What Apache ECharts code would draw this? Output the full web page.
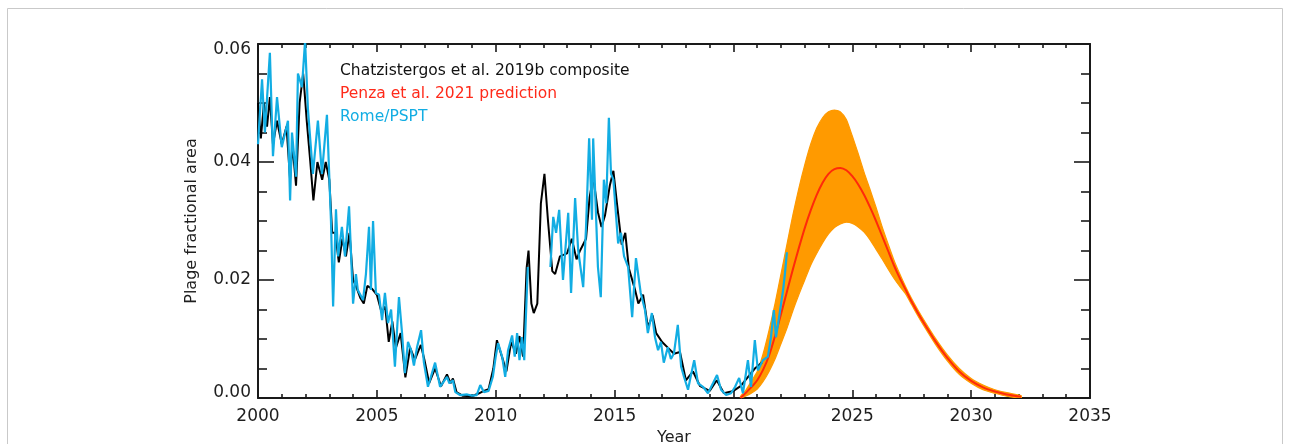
<!DOCTYPE html>
<html>
<head>
<meta charset="utf-8">
<script src="https://cdn.jsdelivr.net/npm/echarts@6/dist/echarts.min.js"></script>
<style>
html,body{margin:0;padding:0;background:#fff;}
#chart{width:1290px;height:444px;}
</style>
</head>
<body>
<div id="chart"></div>
<script>
// ---- Data ----
const xTicks = [2000, 2005, 2010, 2015, 2020, 2025, 2030, 2035];
const yTicks = [0.00, 0.02, 0.04, 0.06];

const legendLabels = ["Chatzistergos et al. 2019b composite", "Penza et al. 2021 prediction", "Rome/PSPT"];
const xTitle = "Year";
const yTitle = "Plage fractional area";

// Chatzistergos et al. 2019b composite (black)
const compYears = [2000.0,2000.12,2000.25,2000.38,2000.5,2000.63,2000.8,2001.0,2001.2,2001.35,2001.45,2001.6,2001.75,2001.9,2002.05,2002.2,2002.33,2002.5,2002.7,2002.85,2003.0,2003.12,2003.25,2003.4,2003.55,2003.7,2003.85,2004.0,2004.12,2004.3,2004.45,2004.6,2004.8,2005.0,2005.2,2005.35,2005.5,2005.65,2005.8,2006.0,2006.2,2006.4,2006.6,2006.85,2007.0,2007.2,2007.45,2007.7,2007.95,2008.1,2008.2,2008.35,2008.6,2009.0,2009.3,2009.5,2009.7,2009.9,2010.05,2010.3,2010.45,2010.65,2010.85,2011.0,2011.15,2011.3,2011.38,2011.5,2011.6,2011.75,2011.9,2012.05,2012.2,2012.38,2012.5,2012.7,2013.0,2013.2,2013.4,2013.55,2013.8,2013.95,2014.1,2014.3,2014.45,2014.6,2014.8,2014.95,2015.1,2015.3,2015.45,2015.6,2015.85,2016.0,2016.2,2016.4,2016.6,2016.75,2017.0,2017.25,2017.5,2017.75,2018.0,2018.3,2018.6,2019.0,2019.3,2019.6,2020.0,2020.3,2020.6,2020.9,2021.2];
const compVals  = [0.050,0.044,0.050,0.046,0.051,0.043,0.047,0.043,0.046,0.037,0.043,0.036,0.050,0.055,0.047,0.040,0.0335,0.040,0.037,0.040,0.037,0.028,0.028,0.023,0.027,0.024,0.028,0.020,0.019,0.017,0.016,0.019,0.0185,0.0175,0.0145,0.0155,0.0095,0.013,0.0085,0.011,0.0035,0.0085,0.0065,0.009,0.0065,0.0025,0.005,0.002,0.004,0.0025,0.0033,0.001,0.0004,0.0003,0.0008,0.0012,0.0015,0.005,0.0098,0.0065,0.0045,0.0095,0.0075,0.0105,0.007,0.022,0.025,0.016,0.0144,0.016,0.033,0.038,0.030,0.0215,0.021,0.024,0.0245,0.027,0.0235,0.025,0.027,0.034,0.0375,0.0315,0.029,0.031,0.036,0.0385,0.033,0.026,0.028,0.022,0.0185,0.016,0.0175,0.012,0.014,0.011,0.0095,0.0085,0.0075,0.0078,0.003,0.0045,0.002,0.0012,0.003,0.0008,0.0012,0.002,0.0035,0.005,0.006];

// Rome/PSPT (cyan); null = data gap
const psptYears = [2000.0,2000.17,2000.29,2000.5,2000.63,2000.8,2001.0,2001.26,2001.35,2001.43,2001.6,2001.68,2001.85,2001.98,2002.1,2002.31,2002.52,2002.69,2002.9,2003.07,2003.16,2003.28,2003.37,2003.53,2003.66,2003.83,2004.0,2004.12,2004.2,2004.42,2004.54,2004.67,2004.75,2004.84,2004.96,2005.09,2005.22,2005.34,2005.47,2005.6,2005.76,2005.93,2006.06,2006.18,2006.31,2006.44,2006.56,2006.69,2006.86,2006.98,2007.15,2007.45,2007.66,2007.95,2008.05,2008.2,2008.3,2008.5,2008.8,2009.0,2009.2,2009.35,2009.5,2009.7,2009.88,2010.0,2010.1,2010.27,2010.4,2010.52,2010.69,2010.8,2010.9,2011.0,2011.1,2011.2,2011.35,2011.8,2012.3,2012.42,2012.54,2012.67,2012.83,2013.05,2013.17,2013.34,2013.47,2013.68,2013.8,2013.93,2014.05,2014.1,2014.3,2014.42,2014.55,2014.65,2014.76,2014.85,2014.95,2015.15,2015.27,2015.4,2015.57,2015.74,2015.9,2016.1,2016.28,2016.4,2016.57,2016.7,2016.83,2016.95,2017.07,2017.24,2017.37,2017.5,2017.66,2017.8,2017.92,2018.09,2018.2,2018.35,2018.51,2018.72,2018.93,2019.14,2019.31,2019.48,2019.69,2019.9,2020.07,2020.24,2020.4,2020.61,2020.74,2020.9,2021.03,2021.24,2021.45,2021.58,2021.7,2021.79,2021.92,2022.09,2022.17,2022.25];
const psptVals  = [0.043,0.054,0.045,0.0585,0.041,0.051,0.0425,0.047,0.0335,0.045,0.0375,0.055,0.0527,0.0605,0.049,0.038,0.047,0.038,0.048,0.030,0.0155,0.032,0.024,0.029,0.024,0.0325,0.016,0.021,0.0183,0.0166,0.021,0.029,0.0183,0.030,0.0178,0.0175,0.0132,0.0178,0.0127,0.015,0.0053,0.0171,0.011,0.0042,0.0095,0.0081,0.0055,0.0086,0.0115,0.006,0.0019,0.006,0.0019,0.0036,0.0025,0.003,0.001,0.0005,0.0006,0.0004,0.0005,0.0022,0.001,0.0012,0.0036,0.007,0.0093,0.007,0.0036,0.0081,0.0106,0.007,0.011,0.0064,0.0103,0.0064,0.0222,null,0.0222,0.0307,0.028,0.0319,0.020,0.0314,0.0178,0.0339,0.025,0.0188,0.029,0.044,0.0302,0.044,0.0222,0.0171,0.037,0.033,0.0475,0.038,0.037,0.0262,0.028,0.024,0.0222,0.0137,0.0237,0.0178,0.0149,0.011,0.0144,0.0103,0.0081,0.0095,0.006,0.0086,0.0066,0.0076,0.0124,0.0053,0.0036,0.0014,0.0036,0.0064,0.0025,0.0019,0.0008,0.0025,0.0039,0.0014,0.0005,0.0008,0.0019,0.0034,0.0008,0.0064,0.0019,0.0098,0.0047,0.0064,0.007,0.0103,0.0149,0.0103,0.0137,0.0183,0.0212,0.0247];

// Penza et al. 2021 prediction (red) with its uncertainty band (orange)
const predYears = [2020.3,2020.5,2020.75,2021.0,2021.25,2021.5,2021.75,2022.0,2022.25,2022.5,2022.75,2023.0,2023.25,2023.5,2023.75,2024.0,2024.25,2024.5,2024.75,2025.0,2025.25,2025.5,2025.75,2026.0,2026.25,2026.5,2026.75,2027.0,2027.25,2027.5,2027.75,2028.0,2028.5,2029.0,2029.5,2030.0,2030.5,2031.0,2031.5,2032.1];
const predMid  = [0.0,0.0008,0.0018,0.003,0.0048,0.0072,0.0105,0.0142,0.018,0.0218,0.0254,0.0288,0.0318,0.0344,0.0365,0.038,0.0388,0.039,0.0386,0.0376,0.0362,0.0344,0.0323,0.030,0.0275,0.025,0.0225,0.0203,0.0183,0.0163,0.0145,0.0128,0.0096,0.0068,0.0045,0.0029,0.0018,0.0011,0.0006,0.0002];
const predHigh = [0.0003,0.0012,0.0028,0.0045,0.0075,0.0115,0.016,0.021,0.026,0.031,0.0355,0.0395,0.043,0.0457,0.0475,0.0485,0.0488,0.0485,0.0472,0.0444,0.0414,0.0382,0.0353,0.0323,0.0291,0.0262,0.0234,0.021,0.0188,0.0168,0.015,0.0133,0.0101,0.0073,0.005,0.0033,0.0022,0.0014,0.0009,0.0004];
const predLow  = [0.0,0.0003,0.0008,0.0015,0.0028,0.0045,0.0066,0.0092,0.0118,0.0148,0.0175,0.020,0.0225,0.0245,0.0263,0.0278,0.0289,0.0295,0.0298,0.0296,0.029,0.0281,0.0268,0.0252,0.0236,0.0219,0.0203,0.0189,0.0176,0.0158,0.014,0.0123,0.0091,0.0063,0.004,0.0025,0.0014,0.0008,0.0003,0.0];

// ---- Build the chart ----
const pairs = (xs, ys) => xs.map((x, i) => [x, ys[i] === null ? '-' : ys[i]]);

const FONT = 'DejaVu Sans';
const AX = '#1a1a1a';
const TXT = '#1e1e1e';

function xAxisDef(pos, labels) {
  return {
    type: 'value', position: pos, min: 2000, max: 2035, interval: 5,
    name: labels ? xTitle : '', nameLocation: 'middle', nameGap: 28,
    nameTextStyle: { fontFamily: FONT, fontSize: 16, color: TXT },
    axisLine: { show: true, onZero: false, lineStyle: { color: AX, width: 2 } },
    axisTick: { show: true, inside: true, length: 8, lineStyle: { color: AX, width: 1.6 } },
    minorTick: { show: true, splitNumber: 5, length: 4, lineStyle: { color: AX, width: 1.6 } },
    axisLabel: { show: labels, margin: 10, fontFamily: FONT, fontSize: 17, color: TXT,
      formatter: v => xTicks.includes(v) ? String(v) : '' },
    splitLine: { show: false }, minorSplitLine: { show: false }
  };
}
function yAxisDef(pos, labels) {
  const lo = yTicks[0], hi = yTicks[yTicks.length - 1];
  return {
    type: 'value', position: pos, min: 0, max: 0.06, interval: 0.02,
    name: labels ? yTitle : '', nameLocation: 'middle', nameGap: 58,
    nameTextStyle: { fontFamily: FONT, fontSize: 16, color: TXT },
    axisLine: { show: true, onZero: false, lineStyle: { color: AX, width: 2 } },
    axisTick: { show: true, inside: true, length: 16, lineStyle: { color: AX, width: 1.6 } },
    minorTick: { show: true, splitNumber: 4, length: 9, lineStyle: { color: AX, width: 1.6 } },
    axisLabel: { show: labels, margin: 7, fontFamily: FONT, fontSize: 17, color: TXT,
      formatter: v => {
        if (!yTicks.some(t => Math.abs(t - v) < 1e-9)) return '';
        const s = v.toFixed(2);
        if (Math.abs(v - hi) < 1e-9) return '{hi|' + s + '}';
        if (Math.abs(v - lo) < 1e-9) return '{lo|' + s + '}';
        return s;
      },
      rich: {
        hi: { fontFamily: FONT, fontSize: 17, color: TXT, padding: [12, 0, 0, 0] },
        lo: { fontFamily: FONT, fontSize: 17, color: TXT, padding: [0, 0, 10, 0] }
      }
    },
    splitLine: { show: false }, minorSplitLine: { show: false }
  };
}

// Uncertainty band: one polygon, upper edge forward then lower edge backward, via the axis scales
function renderBand(params, api) {
  const pts = [];
  for (let i = 0; i < predYears.length; i++) pts.push(api.coord([predYears[i], predHigh[i]]));
  for (let i = predYears.length - 1; i >= 0; i--) pts.push(api.coord([predYears[i], predLow[i]]));
  return { type: 'polygon', shape: { points: pts, smooth: 0.2 }, style: { fill: '#ff9a00', stroke: '#ff9a00', lineWidth: 1.2 } };
}

const chart = echarts.init(document.getElementById('chart'), null, { renderer: 'canvas' });
chart.setOption({
  backgroundColor: '#fff',
  animation: false,
  grid: { left: 258, right: 200, top: 44, bottom: 46, containLabel: false, outerBoundsMode: 'none' },
  xAxis: [xAxisDef('bottom', true), xAxisDef('top', false)],
  yAxis: [yAxisDef('left', true), yAxisDef('right', false)],
  graphic: [
    { type: 'rect', z: -10, silent: true, shape: { x: 7.5, y: 8.5, width: 1275, height: 500 },
      style: { fill: 'none', stroke: '#c9c9c9', lineWidth: 1 } },
    { type: 'text', left: 340, top: 63, style: { text: legendLabels[0], fill: '#111', font: '15.5px "DejaVu Sans"' } },
    { type: 'text', left: 340, top: 86, style: { text: legendLabels[1], fill: '#ff2a1a', font: '15.5px "DejaVu Sans"' } },
    { type: 'text', left: 340, top: 109, style: { text: legendLabels[2], fill: '#12ade3', font: '15.5px "DejaVu Sans"' } }
  ],
  series: [
    { name: 'band', type: 'custom', renderItem: renderBand, data: [[predYears[0], predMid[0]]],
      clip: true, silent: true, z: 1 },
    { name: legendLabels[1], type: 'line', data: pairs(predYears, predMid), showSymbol: false,
      smooth: 0.2, lineStyle: { color: '#ff2a0a', width: 2 }, z: 3 },
    { name: legendLabels[0], type: 'line', data: pairs(compYears, compVals), showSymbol: false,
      lineStyle: { color: '#000', width: 2 }, z: 4 },
    { name: legendLabels[2], type: 'line', data: pairs(psptYears, psptVals), showSymbol: false,
      connectNulls: false, lineStyle: { color: '#12ade3', width: 2.2 }, z: 5 }
  ]
});
</script>
</body>
</html>
